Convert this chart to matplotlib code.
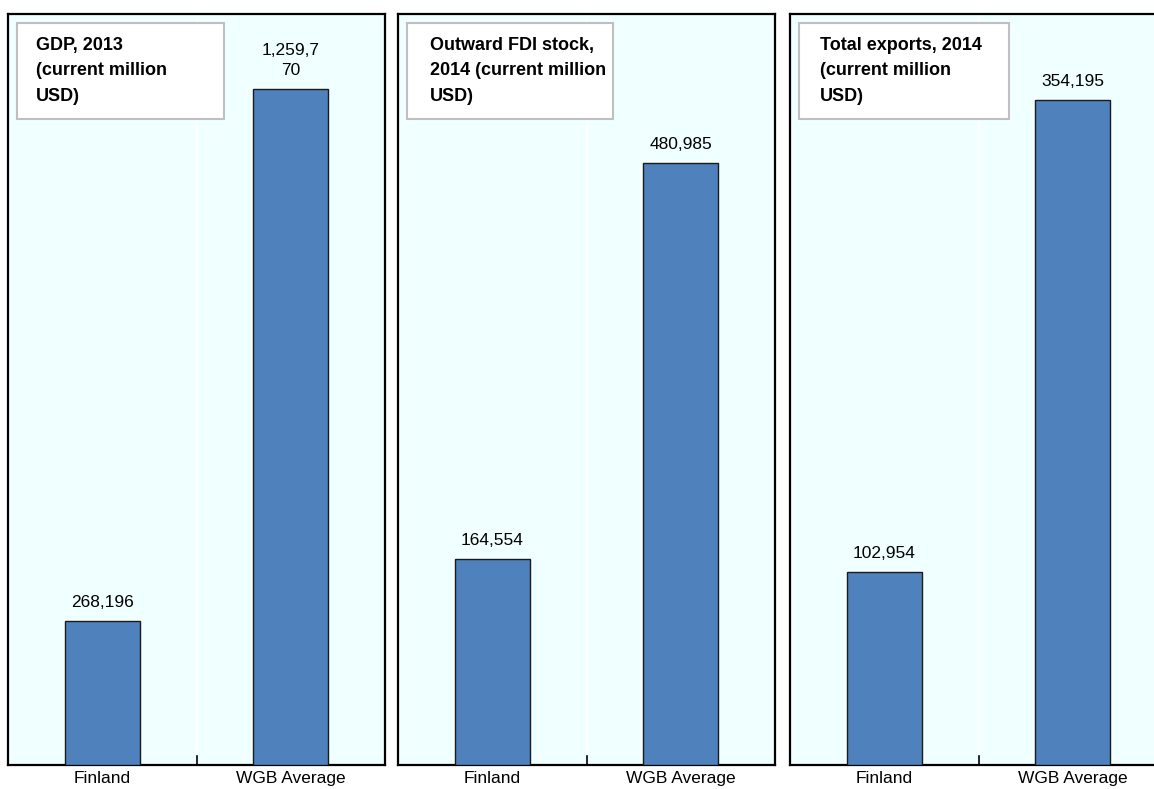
import matplotlib.pyplot as plt
from matplotlib.patches import Rectangle

plt.rcParams['font.family'] = ['Liberation Sans Narrow', 'Liberation Sans', 'DejaVu Sans']

# data
categories = ["Finland", "WGB Average"]
titles = [
    "GDP, 2013\n(current million\nUSD)",
    "Outward FDI stock,\n2014 (current million\nUSD)",
    "Total exports, 2014\n(current million\nUSD)",
]
gdp = [268196, 1259770]
fdi = [164554, 480985]
exports = [102954, 354195]
series = [gdp, fdi, exports]
value_labels = [
    ["268,196", "1,259,7\n70"],
    ["164,554", "480,985"],
    ["102,954", "354,195"],
]
ymax = [1400000, 600000, 400000]

BG = '#F0FFFF'
BAR = '#4F81BD'

fig = plt.figure(figsize=(11.54, 7.89), dpi=100)
fig.patch.set_facecolor('white')

W, H = 1154, 789
lefts = [8, 398, 790]
pw = 377
top, bottom = 14, 765
ph = bottom - top
box_w = [207, 206, 210]
text_dx = [19, 23, 21]

for i in range(3):
    ax = fig.add_axes([lefts[i] / W, (H - bottom) / H, pw / W, ph / H])
    ax.set_facecolor(BG)
    x = range(len(categories))
    ax.bar(x, series[i], width=0.4, color=BAR, edgecolor='#1a1a1a', linewidth=1.0, zorder=3)
    ax.set_xlim(-0.5, 1.5)
    ax.set_ylim(0, ymax[i])
    ax.set_yticks([])
    ax.set_xticks(list(x))
    ax.set_xticklabels(categories, fontsize=12.5)
    ax.tick_params(axis='x', length=0, pad=4)
    # white separator and small boundary tick
    ax.axvline(0.5, color='white', linewidth=1.5, zorder=1)
    ax.plot([0.5, 0.5], [0, ymax[i] * 0.012], color='black', linewidth=1.2, zorder=4,
            clip_on=False)
    for s in ax.spines.values():
        s.set_color('black')
        s.set_linewidth(1.6)
    for j, v in enumerate(series[i]):
        ax.annotate(value_labels[i][j], (j, v), xytext=(0, 8), textcoords='offset points',
                    ha='center', va='bottom', fontsize=12.5, linespacing=1.4)
    # title box
    bx0 = 9 / pw
    bx_w = box_w[i] / pw
    by1 = 1 - (23 - top) / ph
    by_h = 96 / ph
    ax.add_patch(Rectangle((bx0, by1 - by_h), bx_w, by_h, transform=ax.transAxes,
                           facecolor='white', edgecolor='#BFBFBF', linewidth=1.5, zorder=5))
    ax.text(bx0 + text_dx[i] / pw, by1 - 14 / ph, titles[i], transform=ax.transAxes,
            ha='left', va='top', fontsize=13, fontweight='bold', linespacing=1.65, zorder=6)

plt.savefig('out.png', dpi=100)
